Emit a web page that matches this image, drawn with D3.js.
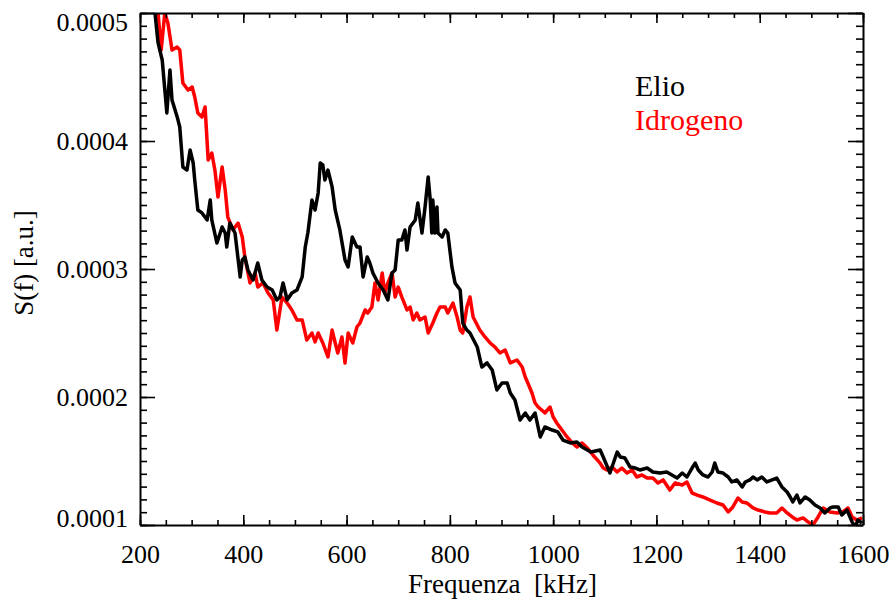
<!DOCTYPE html>
<html>
<head>
<meta charset="utf-8">
<script src="https://cdn.jsdelivr.net/npm/d3@7"></script>
<style>
  body { margin: 0; background: #fff; }
  svg { display: block; }
</style>
</head>
<body>
<svg id="chart" width="896" height="600"></svg>
<script>
// Axis ticks
const xTicks = [200, 400, 600, 800, 1000, 1200, 1400, 1600];
const yTicks = [1e-4, 2e-4, 3e-4, 4e-4, 5e-4];

// Elio (helium) spectrum: frequency [kHz] and S(f) [a.u.]
const elioFreq = [215,229,235,243,252,258,262,272,277,283,291,297,303,306,312,320,330,336,339,349,359,365,368,374,384,394,398,403,409,419,428,436,446,456,465,471,477,485,494,504,514,520,525,533,539,545,549,554,558,564,572,578,587,597,603,611,620,626,632,640,645,651,661,671,680,688,694,700,707,713,717,723,733,738,746,752,758,762,765,767,771,775,777,785,791,796,804,810,820,825,833,839,853,862,872,882,891,901,911,917,926,936,946,955,965,975,984,998,1009,1019,1033,1046,1056,1073,1091,1097,1110,1124,1130,1139,1149,1159,1168,1182,1193,1207,1220,1230,1240,1250,1259,1269,1275,1281,1290,1300,1308,1313,1319,1329,1339,1346,1356,1366,1372,1381,1387,1395,1404,1414,1424,1433,1443,1453,1459,1464,1472,1478,1488,1497,1507,1517,1526,1536,1542,1552,1559,1569,1579,1585,1590,1598];
const elioS = [5.219e-4,5.000e-4,4.766e-4,4.633e-4,4.219e-4,4.555e-4,4.320e-4,4.188e-4,4.109e-4,3.797e-4,3.773e-4,3.930e-4,3.828e-4,3.695e-4,3.461e-4,3.438e-4,3.383e-4,3.539e-4,3.383e-4,3.203e-4,3.328e-4,3.281e-4,3.172e-4,3.359e-4,3.281e-4,2.938e-4,3.070e-4,3.094e-4,2.992e-4,2.914e-4,3.047e-4,2.914e-4,2.859e-4,2.836e-4,2.758e-4,2.781e-4,2.891e-4,2.758e-4,2.813e-4,2.836e-4,2.938e-4,3.172e-4,3.281e-4,3.539e-4,3.461e-4,3.594e-4,3.828e-4,3.813e-4,3.695e-4,3.773e-4,3.641e-4,3.461e-4,3.305e-4,3.070e-4,3.016e-4,3.250e-4,3.172e-4,3.172e-4,2.938e-4,3.094e-4,3.047e-4,2.969e-4,2.891e-4,2.836e-4,2.758e-4,2.969e-4,2.992e-4,3.227e-4,3.227e-4,3.305e-4,3.148e-4,3.328e-4,3.383e-4,3.516e-4,3.281e-4,3.484e-4,3.719e-4,3.539e-4,3.281e-4,3.539e-4,3.281e-4,3.484e-4,3.281e-4,3.250e-4,3.305e-4,3.281e-4,3.016e-4,2.891e-4,2.836e-4,2.578e-4,2.523e-4,2.500e-4,2.391e-4,2.234e-4,2.266e-4,2.211e-4,2.055e-4,2.109e-4,2.109e-4,2.031e-4,1.977e-4,1.820e-4,1.875e-4,1.820e-4,1.875e-4,1.688e-4,1.766e-4,1.742e-4,1.727e-4,1.664e-4,1.641e-4,1.648e-4,1.609e-4,1.570e-4,1.586e-4,1.531e-4,1.406e-4,1.570e-4,1.531e-4,1.523e-4,1.453e-4,1.445e-4,1.430e-4,1.445e-4,1.414e-4,1.406e-4,1.414e-4,1.391e-4,1.367e-4,1.406e-4,1.375e-4,1.445e-4,1.484e-4,1.430e-4,1.391e-4,1.375e-4,1.414e-4,1.484e-4,1.414e-4,1.406e-4,1.375e-4,1.336e-4,1.352e-4,1.297e-4,1.336e-4,1.352e-4,1.375e-4,1.352e-4,1.375e-4,1.336e-4,1.352e-4,1.367e-4,1.297e-4,1.258e-4,1.219e-4,1.180e-4,1.234e-4,1.172e-4,1.219e-4,1.195e-4,1.156e-4,1.133e-4,1.094e-4,1.133e-4,1.141e-4,1.141e-4,1.078e-4,1.117e-4,1.023e-4,0.984e-4,1.039e-4,1.016e-4];

// Idrogeno (hydrogen) spectrum
const idrogenoFreq = [223,235,241,248,254,262,272,277,283,293,301,306,312,320,326,332,339,345,351,359,365,370,380,390,398,403,413,423,428,438,448,458,465,475,485,494,504,514,523,533,539,545,554,564,572,578,583,591,597,603,612,620,626,636,641,649,655,661,669,674,680,688,694,700,707,717,723,729,736,742,752,758,767,775,781,791,796,806,814,820,825,833,839,845,858,868,878,887,897,907,917,930,940,946,951,959,965,971,978,984,994,1000,1007,1017,1027,1037,1046,1056,1066,1077,1091,1097,1104,1114,1124,1133,1143,1153,1162,1172,1182,1193,1203,1213,1226,1236,1250,1259,1269,1279,1290,1304,1317,1329,1339,1348,1358,1366,1375,1387,1397,1410,1420,1433,1443,1453,1463,1472,1484,1494,1503,1513,1523,1536,1550,1561,1571,1579,1588,1598];
const idrogenoS = [5.297e-4,5.000e-4,4.711e-4,5.000e-4,4.922e-4,4.711e-4,4.734e-4,4.711e-4,4.453e-4,4.398e-4,4.422e-4,4.344e-4,4.219e-4,4.188e-4,4.266e-4,3.852e-4,3.906e-4,3.773e-4,3.563e-4,3.797e-4,3.617e-4,3.406e-4,3.305e-4,3.359e-4,3.250e-4,3.094e-4,2.891e-4,2.969e-4,2.859e-4,2.891e-4,2.813e-4,2.758e-4,2.523e-4,2.781e-4,2.734e-4,2.680e-4,2.602e-4,2.602e-4,2.445e-4,2.500e-4,2.430e-4,2.500e-4,2.422e-4,2.313e-4,2.523e-4,2.422e-4,2.344e-4,2.469e-4,2.266e-4,2.500e-4,2.422e-4,2.547e-4,2.578e-4,2.680e-4,2.656e-4,2.703e-4,2.891e-4,2.758e-4,2.969e-4,2.813e-4,2.891e-4,2.969e-4,2.781e-4,2.859e-4,2.781e-4,2.680e-4,2.703e-4,2.602e-4,2.656e-4,2.602e-4,2.625e-4,2.500e-4,2.578e-4,2.656e-4,2.703e-4,2.703e-4,2.656e-4,2.734e-4,2.625e-4,2.523e-4,2.500e-4,2.703e-4,2.781e-4,2.625e-4,2.523e-4,2.469e-4,2.422e-4,2.391e-4,2.344e-4,2.367e-4,2.266e-4,2.289e-4,2.234e-4,2.156e-4,2.109e-4,2.031e-4,1.953e-4,1.922e-4,1.898e-4,1.875e-4,1.922e-4,1.844e-4,1.797e-4,1.742e-4,1.688e-4,1.641e-4,1.609e-4,1.641e-4,1.602e-4,1.547e-4,1.484e-4,1.445e-4,1.430e-4,1.453e-4,1.414e-4,1.445e-4,1.406e-4,1.430e-4,1.375e-4,1.391e-4,1.367e-4,1.367e-4,1.328e-4,1.352e-4,1.273e-4,1.328e-4,1.313e-4,1.336e-4,1.250e-4,1.234e-4,1.219e-4,1.195e-4,1.172e-4,1.156e-4,1.102e-4,1.141e-4,1.211e-4,1.180e-4,1.172e-4,1.133e-4,1.117e-4,1.102e-4,1.094e-4,1.094e-4,1.133e-4,1.094e-4,1.063e-4,1.039e-4,1.055e-4,1.023e-4,1.000e-4,1.063e-4,1.133e-4,1.102e-4,1.094e-4,1.102e-4,1.133e-4,1.063e-4,1.039e-4,1.055e-4];

const seriesNames = ["Elio", "Idrogeno"];
const seriesColors = ["#000000", "#ff0000"];

const serif = "'Liberation Serif', 'Times New Roman', 'DejaVu Serif', serif";
const plot = { left: 140, right: 863, top: 13, bottom: 525 };

const svg = d3.select("#chart");

const x = d3.scaleLinear().domain([200, 1600]).range([plot.left, plot.right]);
const y = d3.scaleLinear().domain([1e-4, 5e-4]).range([plot.bottom, plot.top]);

const xMinor = d3.range(200, 1601, 50);
const yMinor = d3.range(10, 51).map(i => i * 1e-5);

// Clip lines to the plotting box
svg.append("defs").append("clipPath").attr("id", "plotClip")
  .append("rect")
  .attr("x", plot.left).attr("y", plot.top)
  .attr("width", plot.right - plot.left).attr("height", plot.bottom - plot.top);

const line = d3.line().x(d => x(d.f)).y(d => y(d.s));

const series = [
  { name: seriesNames[1], color: seriesColors[1], data: idrogenoFreq.map((f, i) => ({ f, s: idrogenoS[i] })) },
  { name: seriesNames[0], color: seriesColors[0], data: elioFreq.map((f, i) => ({ f, s: elioS[i] })) }
];

svg.append("g").attr("clip-path", "url(#plotClip)")
  .selectAll("path")
  .data(series)
  .join("path")
  .attr("d", d => line(d.data))
  .attr("fill", "none")
  .attr("stroke", d => d.color)
  .attr("stroke-width", 3.5)
  .attr("stroke-linejoin", "round");

function styleAxis(g, showDomain) {
  g.attr("font-family", null).attr("font-size", null);
  g.select("path.domain").attr("stroke", showDomain ? "#000" : "none").attr("stroke-width", 2);
  g.selectAll(".tick line").attr("stroke", "#000").attr("stroke-width", 1.6);
  g.selectAll(".tick text")
    .attr("font-family", serif)
    .attr("font-size", 26)
    .attr("fill", "#000");
}

// Bottom axis
svg.append("g").attr("transform", `translate(0,${plot.bottom})`)
  .call(d3.axisBottom(x).tickValues(xMinor).tickSize(-5).tickSizeOuter(0).tickFormat(""))
  .call(g => styleAxis(g, false));
svg.append("g").attr("transform", `translate(0,${plot.bottom})`)
  .call(d3.axisBottom(x).tickValues(xTicks).tickSize(-10).tickSizeOuter(0).tickPadding(20).tickFormat(d3.format("d")))
  .call(g => styleAxis(g, true));

// Top axis
svg.append("g").attr("transform", `translate(0,${plot.top})`)
  .call(d3.axisTop(x).tickValues(xMinor).tickSize(-5).tickSizeOuter(0).tickFormat(""))
  .call(g => styleAxis(g, false));
svg.append("g").attr("transform", `translate(0,${plot.top})`)
  .call(d3.axisTop(x).tickValues(xTicks).tickSize(-10).tickSizeOuter(0).tickFormat(""))
  .call(g => styleAxis(g, true));

// Left axis
svg.append("g").attr("transform", `translate(${plot.left},0)`)
  .call(d3.axisLeft(y).tickValues(yMinor).tickSize(-7).tickSizeOuter(0).tickFormat(""))
  .call(g => styleAxis(g, false));
svg.append("g").attr("transform", `translate(${plot.left},0)`)
  .call(d3.axisLeft(y).tickValues(yTicks).tickSize(-15).tickSizeOuter(0).tickPadding(12).tickFormat(d3.format(".4f")))
  .call(g => styleAxis(g, true))
  .call(g => g.selectAll(".tick text")
    .attr("y", d => Math.min(Math.max(y(d), plot.top + 9), plot.bottom - 7) - y(d)));

// Right axis
svg.append("g").attr("transform", `translate(${plot.right},0)`)
  .call(d3.axisRight(y).tickValues(yMinor).tickSize(-7).tickSizeOuter(0).tickFormat(""))
  .call(g => styleAxis(g, false));
svg.append("g").attr("transform", `translate(${plot.right},0)`)
  .call(d3.axisRight(y).tickValues(yTicks).tickSize(-15).tickSizeOuter(0).tickFormat(""))
  .call(g => styleAxis(g, true));

// Axis titles
svg.append("text")
  .attr("x", (plot.left + plot.right) / 2 + 1)
  .attr("y", 593)
  .attr("text-anchor", "middle")
  .attr("font-family", serif)
  .attr("font-size", 27)
  .style("white-space", "pre")
  .text("Frequenza  [kHz]");

svg.append("text")
  .attr("transform", "translate(33,263) rotate(-90)")
  .attr("text-anchor", "middle")
  .attr("font-family", serif)
  .attr("font-size", 27)
  .text("S(f) [a.u.]");

// Legend
svg.append("g")
  .selectAll("text")
  .data(seriesNames)
  .join("text")
  .attr("x", 635)
  .attr("y", (d, i) => 96 + i * 34)
  .attr("font-family", serif)
  .attr("font-size", 30)
  .attr("fill", (d, i) => seriesColors[i])
  .text(d => d);
</script>
</body>
</html>
